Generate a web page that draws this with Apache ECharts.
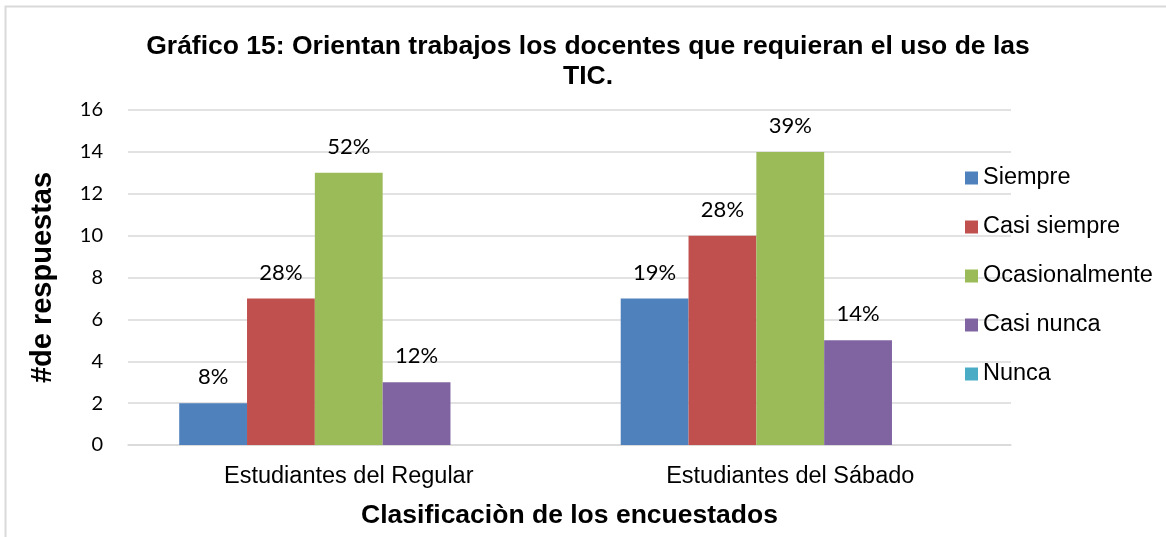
<!DOCTYPE html>
<html>
<head>
<meta charset="utf-8">
<script src="https://cdn.jsdelivr.net/npm/echarts@6/dist/echarts.min.js"></script>
<style>
  html, body { margin: 0; padding: 0; background: #fff; }
  #chart { width: 1166px; height: 537px; }
</style>
</head>
<body>
<div id="chart"></div>
<script>
// data
const categories = ['Estudiantes del Regular', 'Estudiantes del Sábado']
const seriesNames = ['Siempre', 'Casi siempre', 'Ocasionalmente', 'Casi nunca', 'Nunca']

const siempre = [2, 7]
const casiSiempre = [7, 10]
const ocasionalmente = [13, 14]
const casiNunca = [3, 5]
const nunca = [0, 0]

const siemprePct = ['8%', '19%']
const casiSiemprePct = ['28%', '28%']
const ocasionalmentePct = ['52%', '39%']
const casiNuncaPct = ['12%', '14%']
const nuncaPct = ['', '']

const yTicks = [0, 2, 4, 6, 8, 10, 12, 14, 16]

const colors = ['#4F81BD', '#C0504D', '#9BBB59', '#8064A2', '#4BACC6']

const values = [siempre, casiSiempre, ocasionalmente, casiNunca, nunca]
const pcts = [siemprePct, casiSiemprePct, ocasionalmentePct, casiNuncaPct, nuncaPct]

let chart = echarts.init(document.getElementById('chart'))

chart.setOption({
    animation: false,
    color: colors,
    title: {
        text: 'Gráfico 15: Orientan trabajos los docentes que requieran el uso de las\nTIC.',
        left: 588,
        top: 32,
        padding: 0,
        textAlign: 'center',
        textStyle: {
            fontFamily: 'Liberation Sans',
            fontWeight: 'bold',
            fontSize: 26.5,
            lineHeight: 30,
            color: '#000',
            align: 'center'
        }
    },
    graphic: [{
        type: 'rect',
        shape: { x: 5.5, y: 6.5, width: 1200, height: 600 },
        style: { fill: null, stroke: '#d9d9d9', lineWidth: 2 },
        silent: true
    }],
    legend: {
        orient: 'vertical',
        left: 965,
        top: 166,
        padding: 0,
        itemWidth: 13,
        itemHeight: 13,
        itemGap: 25,
        icon: 'rect',
        data: seriesNames,
        textStyle: {
            fontFamily: 'Liberation Sans',
            fontSize: 23.5,
            color: '#000'
        }
    },
    grid: {
        left: 128,
        right: 155,
        top: 110,
        bottom: 92
    },
    xAxis: {
        type: 'category',
        data: categories,
        name: 'Clasificaciòn de los encuestados',
        nameLocation: 'middle',
        nameGap: 57,
        nameTextStyle: {
            fontFamily: 'Liberation Sans',
            fontWeight: 'bold',
            fontSize: 26.5,
            color: '#000',
            verticalAlign: 'top'
        },
        axisLine: { lineStyle: { color: '#d9d9d9', width: 1.5 } },
        axisTick: { show: false },
        axisLabel: {
            margin: 20,
            fontFamily: 'Liberation Sans',
            fontSize: 23.5,
            color: '#000'
        }
    },
    yAxis: {
        type: 'value',
        min: yTicks[0],
        max: yTicks[yTicks.length - 1],
        interval: 2,
        name: '#de respuestas',
        nameLocation: 'middle',
        nameGap: 71,
        nameTextStyle: {
            fontFamily: 'Liberation Sans',
            fontWeight: 'bold',
            fontSize: 29,
            color: '#000'
        },
        axisLine: { show: false },
        axisTick: { show: false },
        splitLine: { lineStyle: { color: '#d9d9d9', width: 1.5 } },
        axisLabel: {
            margin: 25,
            fontFamily: 'Lato',
            fontSize: 20,
            color: '#000'
        }
    },
    series: seriesNames.map((name, i) => ({
        name: name,
        type: 'bar',
        barGap: '0%',
        barCategoryGap: '23.2%',
        data: values[i],
        label: {
            show: i < 4,
            position: 'top',
            distance: 15,
            fontFamily: 'Lato',
            fontSize: 22,
            color: '#000',
            formatter: p => pcts[i][p.dataIndex]
        }
    }))
})
</script>
</body>
</html>
